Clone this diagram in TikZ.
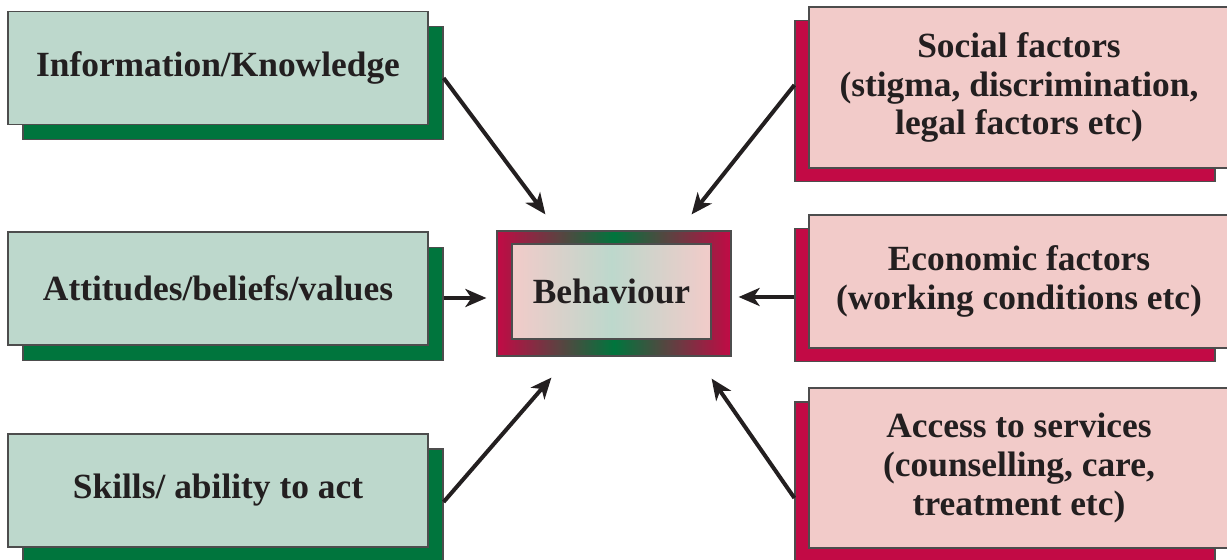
\documentclass[tikz,border=0pt]{standalone}
\usepackage{fontspec}
\setmainfont{Liberation Serif}
\usetikzlibrary{arrows.meta}
\definecolor{gfill}{HTML}{BDD8CC}
\definecolor{gdark}{HTML}{00753D}
\definecolor{pfill}{HTML}{F2CBC9}
\definecolor{crim}{HTML}{C20A45}
\definecolor{edge}{HTML}{4D4D4D}
\definecolor{ink}{HTML}{231F20}
\tikzset{
  box/.style={draw=edge, line width=0.6pt, inner sep=0pt, align=center,
    text=ink, font=\fontsize{17.7}{19.3}\selectfont\bfseries},
  lbox/.style={box, minimum width=210pt, minimum height=56.5pt},
  gfront/.style={lbox, fill=gfill},
  gshadow/.style={lbox, fill=gdark},
  pfront/.style={box, fill=pfill, minimum width=210pt},
  pshadow/.style={box, fill=crim, minimum width=210pt},
  arr/.style={draw=ink, line width=2pt, -{Stealth[length=10.5pt,width=9pt,inset=3pt]}}
}
\begin{document}
\begin{tikzpicture}[x=0.5pt,y=-0.5pt]
\useasboundingbox (0,0) rectangle (1227,560);
% left shadows and fronts
\node[gshadow] (s1) at (233,83) {};
\node[gfront]  (f1) at (218,68) {Information/Knowledge};
\node[gshadow] (s2) at (233,304) {};
\node[gfront]  (f2) at (218,288.5) {Attitudes/beliefs/values};
\node[gshadow] (s3) at (233,505.5) {};
\node[gfront]  (f3) at (218,490.5) {Skills/ ability to act};
% right shadows and fronts
\node[pshadow, minimum height=80.5pt] (r1s) at (1005,101) {};
\node[pfront, minimum height=80.5pt]  (r1)  at (1019,87.5) {Social factors\\(stigma, discrimination,\\legal factors etc)};
\node[pshadow, minimum height=66.5pt] (r2s) at (1005,295) {};
\node[pfront, minimum height=66.5pt]  (r2)  at (1019,281.5) {Economic factors\\(working conditions etc)};
\node[pshadow, minimum height=80pt] (r3s) at (1005,482) {};
\node[pfront, minimum height=80pt]  (r3)  at (1019,468) {Access to services\\(counselling, care,\\treatment etc)};
% behaviour
\node[box, minimum width=117pt, minimum height=62.5pt, left color=crim, right color=crim, middle color=gdark] (beh) at (614,293.5) {};
\node[box, minimum width=99.5pt, minimum height=47.5pt, left color=pfill, right color=pfill, middle color=gfill] (behin) at (611.5,291.5) {Behaviour};
% arrows
\draw[arr] ([shift={(0,-5)}]s1.east) -- ([shift={(49,-16)}]beh.north west);
\draw[arr] ([shift={(0,-6)}]s2.east) -- ([shift={(-10,4.5)}]beh.west);
\draw[arr] ([shift={(0,-3.5)}]s3.east) -- ([shift={(55,21)}]beh.south west);
\draw[arr] ([shift={(0,-16)}]r1s.west) -- ([shift={(-40,-16)}]beh.north east);
\draw[arr] ([shift={(0,2)}]r2s.west) -- ([shift={(7,3.5)}]beh.east);
\draw[arr] ([shift={(0,16)}]r3s.west) -- ([shift={(-20,22)}]beh.south east);
\end{tikzpicture}
\end{document}
